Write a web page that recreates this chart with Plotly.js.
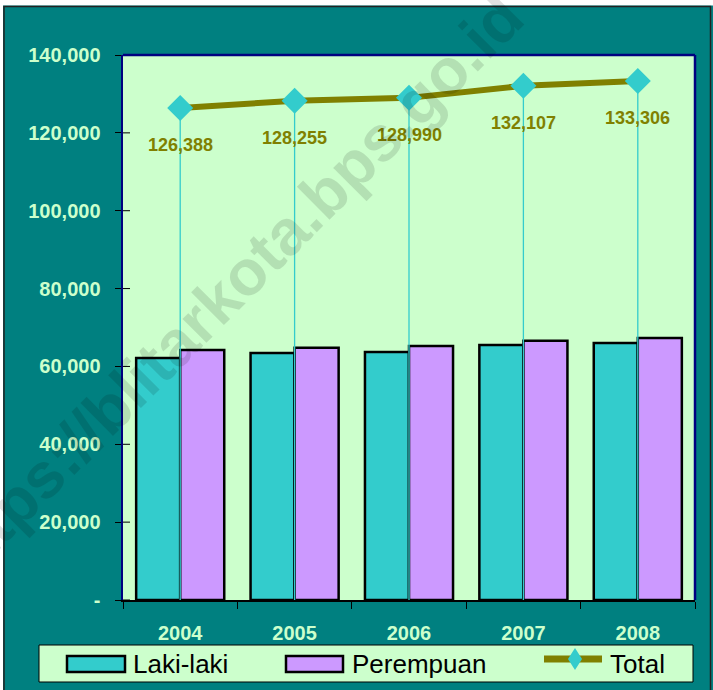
<!DOCTYPE html>
<html>
<head>
<meta charset="utf-8">
<script src="https://cdn.plot.ly/plotly-3.0.1.min.js"></script>
<style>html,body{margin:0;padding:0;background:#fff;}#chart{width:713px;height:690px;}</style>
</head>
<body>
<div id="chart"></div>
<script>
// ---- data ----
var years = ['2004', '2005', '2006', '2007', '2008'];
var lakiLaki = [62150, 63480, 63720, 65530, 66000];
var perempuan = [64238, 64775, 65270, 66577, 67306];
var total = [126388, 128255, 128990, 132107, 133306];
var yTickVals = [0, 20000, 40000, 60000, 80000, 100000, 120000, 140000];
var yTickText = ['-', '20,000', '40,000', '60,000', '80,000', '100,000', '120,000', '140,000'];
var legendNames = ['Laki-laki', 'Perempuan', 'Total'];

// ---- geometry helpers (pixel -> paper) ----
var PL = 123, PR = 695, PT = 55, PB = 600;
function toPX(x) { return (x - PL) / (PR - PL); }
function toPY(y) { return (PB - y) / (PB - PT); }

var teal = '#008080', mint = '#CCFFCC', cyan = '#33CCCC', lilac = '#CC99FF', olive = '#808000';
var fam = 'Liberation Sans, Arial, sans-serif';

// drop lines built from data
var dropX = [], dropY = [];
years.forEach(function (yr, i) { dropX.push(yr, yr, null); dropY.push(total[i], 0, null); });

var traces = [
  { type: 'bar', name: legendNames[0], x: years, y: lakiLaki,
    marker: { color: cyan, line: { color: '#000', width: 2.5 } }, hoverinfo: 'y' },
  { type: 'bar', name: legendNames[1], x: years, y: perempuan,
    marker: { color: lilac, line: { color: '#000', width: 2.5 } }, hoverinfo: 'y' },
  { type: 'scatter', mode: 'lines', x: dropX, y: dropY, showlegend: false,
    line: { color: cyan, width: 1.3 }, hoverinfo: 'skip' },
  { type: 'scatter', mode: 'lines+markers', name: legendNames[2], x: years, y: total,
    line: { color: olive, width: 6 },
    marker: { symbol: 'diamond', size: 20, color: cyan, line: { width: 0 } } }
];

var annotations = years.map(function (yr, i) {
  return { x: i, y: total[i], xref: 'x', yref: 'y', showarrow: false, yshift: -37,
    xanchor: 'center', yanchor: 'middle',
    text: total[i].toLocaleString('en-US'),
    font: { family: fam, size: 18, color: olive, weight: 'bold' } };
});

// custom legend text
var legX = [131, 350, 608];
legendNames.forEach(function (n, i) {
  annotations.push({ x: toPX(legX[i]), y: toPY(664), xref: 'paper', yref: 'paper', xanchor: 'left', yanchor: 'middle',
    showarrow: false, text: n, font: { family: fam, size: 26, color: '#000' } });
});

// watermark
annotations.push({ x: toPX(228), y: toPY(290), xref: 'paper', yref: 'paper', xanchor: 'center', yanchor: 'middle',
  showarrow: false, textangle: -45,
  text: 'https://blitarkota.bps.go.id',
  font: { family: fam, size: 64, color: 'rgba(0,0,0,0.12)', weight: 'bold' } });

var shapes = [];
// inside parts of the crossing y ticks
yTickVals.forEach(function (v) {
  shapes.push({ type: 'line', xref: 'paper', yref: 'y', x0: 0, x1: toPX(PL + 7), y0: v, y1: v,
    line: { color: '#000', width: 1 }, layer: 'above' });
});
// plot border (navy)
shapes.push({ type: 'line', xref: 'paper', yref: 'paper', x0: 0, x1: 1, y0: 1, y1: 1, line: { color: '#000080', width: 2.5 } });
shapes.push({ type: 'line', xref: 'paper', yref: 'paper', x0: 1, x1: 1, y0: 0, y1: 1, line: { color: '#000080', width: 2.5 } });
// outer frame
shapes.push({ type: 'rect', xref: 'paper', yref: 'paper', x0: toPX(-20), x1: toPX(740), y0: toPY(5.5), y1: toPY(-20),
  fillcolor: '#fff', line: { width: 0 } });
shapes.push({ type: 'rect', xref: 'paper', yref: 'paper', x0: toPX(-20), x1: toPX(3), y0: toPY(700), y1: toPY(-20),
  fillcolor: '#fff', line: { width: 0 } });
shapes.push({ type: 'rect', xref: 'paper', yref: 'paper', x0: toPX(4), x1: toPX(710.5), y0: toPY(720), y1: toPY(6.5),
  fillcolor: 'rgba(0,0,0,0)', line: { color: '#222', width: 1.5 } });
// legend box
shapes.push({ type: 'rect', xref: 'paper', yref: 'paper', x0: toPX(39), x1: toPX(693), y0: toPY(682), y1: toPY(645),
  fillcolor: mint, line: { color: '#000', width: 1 } });
shapes.push({ type: 'rect', xref: 'paper', yref: 'paper', x0: toPX(67), x1: toPX(125), y0: toPY(672), y1: toPY(656),
  fillcolor: cyan, line: { color: '#000', width: 2.5 } });
shapes.push({ type: 'rect', xref: 'paper', yref: 'paper', x0: toPX(286), x1: toPX(343), y0: toPY(672), y1: toPY(656),
  fillcolor: lilac, line: { color: '#000', width: 2.5 } });
shapes.push({ type: 'line', xref: 'paper', yref: 'paper', x0: toPX(544), x1: toPX(602), y0: toPY(659), y1: toPY(659),
  line: { color: olive, width: 7 } });
var dcx = 575, dcy = 659;
shapes.push({ type: 'path', xref: 'paper', yref: 'paper',
  path: 'M' + toPX(dcx - 7) + ',' + toPY(dcy) + ' L' + toPX(dcx) + ',' + toPY(dcy - 11) + ' L' + toPX(dcx + 7) + ',' + toPY(dcy) +
        ' L' + toPX(dcx) + ',' + toPY(dcy + 11) + ' Z',
  fillcolor: cyan, line: { width: 0 } });

var layout = {
  width: 713, height: 690,
  margin: { l: PL, r: 713 - PR, t: PT, b: 690 - PB, pad: 0 },
  paper_bgcolor: teal, plot_bgcolor: mint,
  showlegend: false,
  barmode: 'group', bargap: 0.23, bargroupgap: 0,
  font: { family: fam },
  xaxis: { type: 'category', range: [-0.5, 4.5], tickson: 'boundaries', ticks: 'outside', ticklen: 7, tickcolor: '#000', tickwidth: 1,
    showline: true, linecolor: '#000', linewidth: 2, showgrid: false, zeroline: false,
    ticklabelstandoff: 14,
    tickfont: { family: fam, size: 20, color: mint, weight: 'bold' } },
  yaxis: { range: [0, 140000], tickvals: yTickVals, ticktext: yTickText, ticks: 'outside', ticklen: 6,
    tickcolor: '#000', tickwidth: 1, showline: true, linecolor: '#000080', linewidth: 2.5,
    showgrid: false, zeroline: false, ticklabelstandoff: 10,
    tickfont: { family: fam, size: 20, color: mint, weight: 'bold' } },
  annotations: annotations,
  shapes: shapes
};

Plotly.newPlot('chart', traces, layout, { displayModeBar: false, staticPlot: true });
</script>
</body>
</html>
